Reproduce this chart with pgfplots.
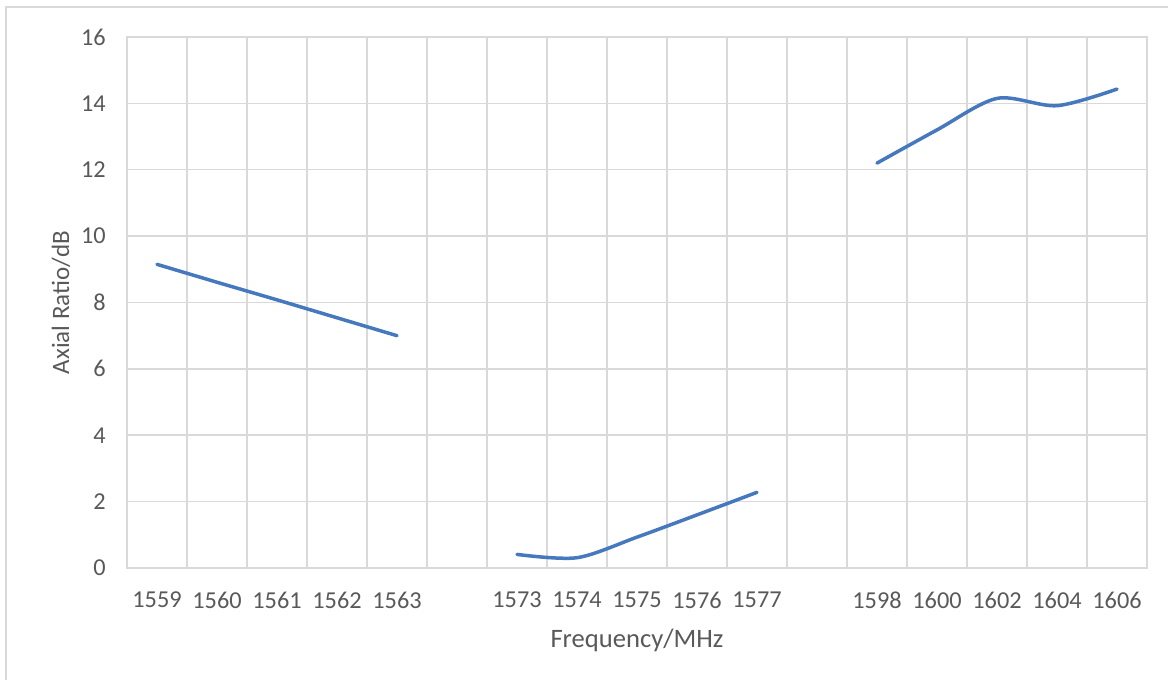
\documentclass[border=0pt]{standalone}
\usepackage{fontspec}
\setmainfont{Carlito}
\usepackage{pgfplots}
\pgfplotsset{compat=1.18}
\definecolor{txt}{RGB}{89,89,89}
\definecolor{grd}{RGB}{217,217,217}
\definecolor{ln}{RGB}{70,120,190}
\begin{document}
\begin{tikzpicture}[x=1pt,y=1pt]
\useasboundingbox (-127,-112) rectangle (1041,568);
\draw[grd, line width=2pt] (-121,-130) -- (-121,561) -- (1060,561);
\begin{axis}[at={(0,0)}, anchor=south west, scale only axis, width=1020pt, height=531pt,
 xmin=-0.5, xmax=16.5, ymin=0, ymax=16,
 xtick={0,...,16},
 xticklabels={1559,1560,1561,1562,1563,,1573,1574,1575,1576,1577,,1598,1600,1602,1604,1606},
 minor xtick={-0.5,0.5,...,16.5}, xminorgrids,
 ytick={0,2,...,16}, ymajorgrids,
 major tick length=0, minor tick length=0,
 grid style={grd, line width=1.5pt}, minor grid style={grd, line width=1.5pt},
 axis line style={grd, line width=1.5pt},
 tick label style={font=\fontsize{24.3}{28}\selectfont, text=txt},
 /pgf/number format/assume math mode=true,
 yticklabel style={inner sep=0pt, xshift=-21pt},
 xticklabel style={inner sep=0pt, yshift=-24pt, anchor=north},
 xlabel={Frequency/MHz}, ylabel={Axial Ratio/dB},
 xlabel style={font=\fontsize{26.6}{30}\selectfont, text=txt, at={(axis description cs:0.5,-0.1488)}, anchor=base, inner sep=0pt},
 ylabel style={font=\fontsize{25}{30}\selectfont, text=txt, at={(axis description cs:-0.0647,0.5)}, anchor=center},
]
\addplot[ln, line width=3.5pt, line cap=round] coordinates {(0,9.15) (1,8.61) (2,8.08) (3,7.54) (4,7.0)};
\addplot[ln, line width=3.5pt, line cap=round, smooth, tension=0.5] coordinates {(6,0.41) (7,0.31) (8,0.93) (9,1.6) (10,2.28)};
\addplot[ln, line width=3.5pt, line cap=round, smooth, tension=0.5] coordinates {(12,12.2) (13,13.2) (14,14.15) (15,13.93) (16,14.43)};
\end{axis}
\end{tikzpicture}
\end{document}
